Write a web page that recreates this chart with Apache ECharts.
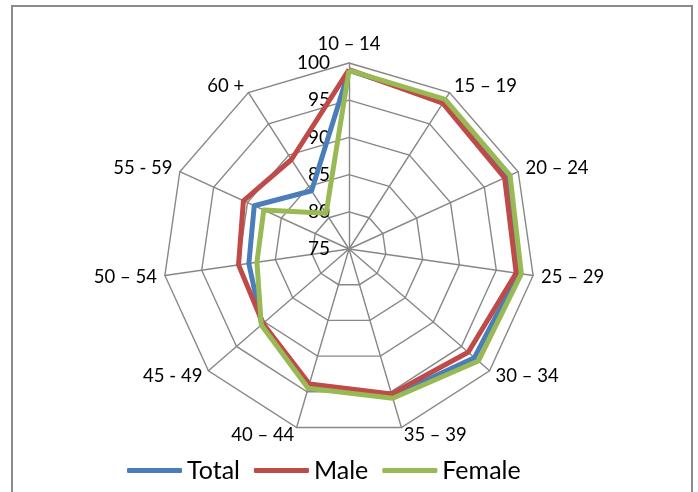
<!DOCTYPE html>
<html>
<head>
<meta charset="utf-8">
<script src="https://cdn.jsdelivr.net/npm/echarts@6/dist/echarts.min.js"></script>
<style>
  html, body { margin: 0; padding: 0; background: #fff; }
  #chart { width: 698px; height: 492px; }
</style>
</head>
<body>
<div id="chart"></div>
<script>
// Age groups, listed clockwise starting from the top spoke
const categories = ['10 – 14', '15 – 19', '20 – 24', '25 – 29', '30 – 34', '35 – 39',
                    '40 – 44', '45 - 49', '50 – 54', '55 - 59', '60 +'];
const total  = [99.0, 98.6, 98.4, 98.0, 97.3, 95.6, 94.2, 90.5, 88.6, 89.0, 84.3];
const male   = [99.1, 98.3, 98.0, 97.7, 96.2, 95.3, 93.9, 90.3, 90.0, 90.6, 89.3];
const female = [99.0, 98.9, 98.8, 98.4, 98.0, 95.9, 94.5, 90.6, 87.5, 87.6, 80.7];
const scaleMin = 75, scaleMax = 100;

const FONT = 'Lato, "Open Sans", sans-serif';
const GRID = '#878787';

// ECharts lays indicators out counter-clockwise; reorder so they run clockwise.
const order = [0].concat(categories.slice(1).map((_, i) => categories.length - 1 - i));
const reorder = arr => order.map(i => arr[i]);

const indicator = order.map((i, k) => {
  const ind = { name: categories[i], min: scaleMin, max: scaleMax };
  if (k === 0) {
    ind.axisLabel = {
      show: true, color: '#000', fontFamily: FONT, fontSize: 19,
      align: 'right', margin: 19
    };
  }
  return ind;
});

const chart = echarts.init(document.getElementById('chart'), null, { renderer: 'canvas' });

function lineSeries(name, values, color) {
  return {
    value: reorder(values), name: name,
    lineStyle: { color: color, width: 5, join: 'round' },
    itemStyle: { color: color }
  };
}

chart.setOption({
  animation: false,
  color: ['#4A7EBB', '#BE4B48', '#98B954'],
  graphic: [{
    type: 'rect', silent: true, z: -1,
    shape: { x: 12, y: 6, width: 680, height: 500 },
    style: { fill: 'none', stroke: '#8c8c8c', lineWidth: 2 }
  }],
  legend: {
    bottom: 4, left: 122,
    icon: 'roundRect', itemWidth: 55, itemHeight: 5, itemGap: 14,
    textStyle: { fontFamily: FONT, fontSize: 25, color: '#000' },
    data: ['Total', 'Male', 'Female']
  },
  radar: {
    center: [349, 249],
    radius: 186,
    shape: 'polygon',
    splitNumber: 5,
    startAngle: 90,
    indicator: indicator,
    axisName: { color: '#000', fontFamily: FONT, fontSize: 18.5 },
    nameGap: 8,
    axisLine: { lineStyle: { color: GRID, width: 1.4 } },
    splitLine: { lineStyle: { color: GRID, width: 1.4 } },
    splitArea: { show: false },
    axisTick: { show: false },
    axisLabel: { show: false }
  },
  series: [{
    type: 'radar',
    symbol: 'none',
    data: [
      lineSeries('Total', total, '#4A7EBB'),
      lineSeries('Male', male, '#BE4B48'),
      lineSeries('Female', female, '#98B954')
    ]
  }]
});
</script>
</body>
</html>
